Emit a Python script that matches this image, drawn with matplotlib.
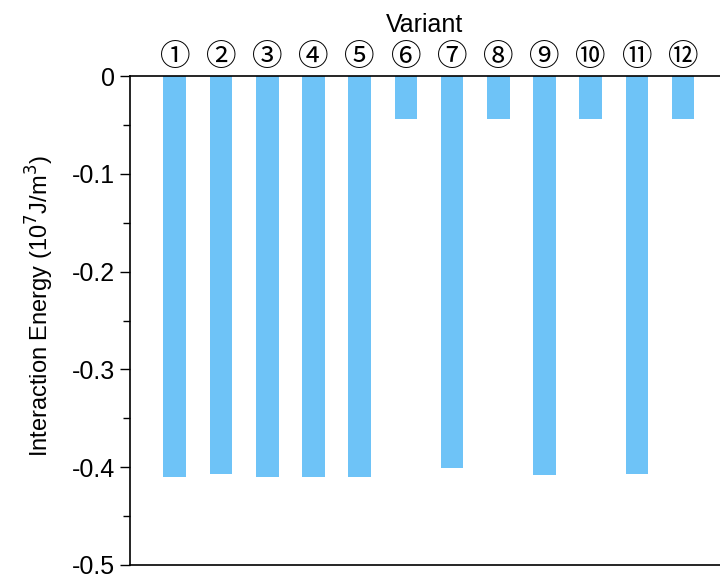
import numpy as np
import matplotlib.pyplot as plt
from matplotlib.ticker import MultipleLocator, FixedFormatter

plt.rcParams['font.family'] = ['Liberation Sans', 'DejaVu Sans']
plt.rcParams['axes.unicode_minus'] = False

# 数据
variants = np.arange(1, 13)
variant_labels = ['①', '②', '③', '④', '⑤', '⑥', '⑦', '⑧', '⑨', '⑩', '⑪', '⑫']
energy = [-0.410, -0.407, -0.410, -0.410, -0.410, -0.044,
          -0.401, -0.044, -0.408, -0.044, -0.407, -0.044]
y_ticks = [0, -0.1, -0.2, -0.3, -0.4, -0.5]
y_tick_labels = ['0', '-0.1', '-0.2', '-0.3', '-0.4', '-0.5']

fig = plt.figure(figsize=(7.2, 5.77), dpi=100)
ax = fig.add_axes([130 / 720, 1 - 565 / 577, 1 - 130 / 720, (565 - 76) / 577])

ax.bar(variants, energy, width=0.49, color='#6EC3F7', edgecolor='none')

ax.set_xlim(0.03, 12.8)
ax.set_ylim(-0.5, 0)

# x 轴放在上方
ax.xaxis.tick_top()
ax.xaxis.set_label_position('top')
ax.set_xticks(variants)
ax.set_xticklabels(variant_labels, fontsize=22,
                   family=['Noto Sans CJK SC', 'DejaVu Sans'])
ax.tick_params(axis='x', length=0, pad=2)
ax.set_xlabel('Variant', fontsize=18, labelpad=7)

ax.set_yticks(y_ticks)
ax.yaxis.set_major_formatter(FixedFormatter(y_tick_labels))
ax.yaxis.set_minor_locator(MultipleLocator(0.05))
ax.tick_params(axis='y', which='major', direction='out', length=7, width=1, labelsize=18, pad=4)
ax.tick_params(axis='y', which='minor', direction='out', length=5, width=1)
ax.set_ylabel('Interaction Energy (10$^7$J/m$^3$)', fontsize=17)
ax.yaxis.set_label_coords(-0.125, 0.53)

ax.spines['right'].set_visible(False)
for s in ['top', 'left', 'bottom']:
    ax.spines[s].set_linewidth(1.2)

fig.savefig('out.png', dpi=100)
